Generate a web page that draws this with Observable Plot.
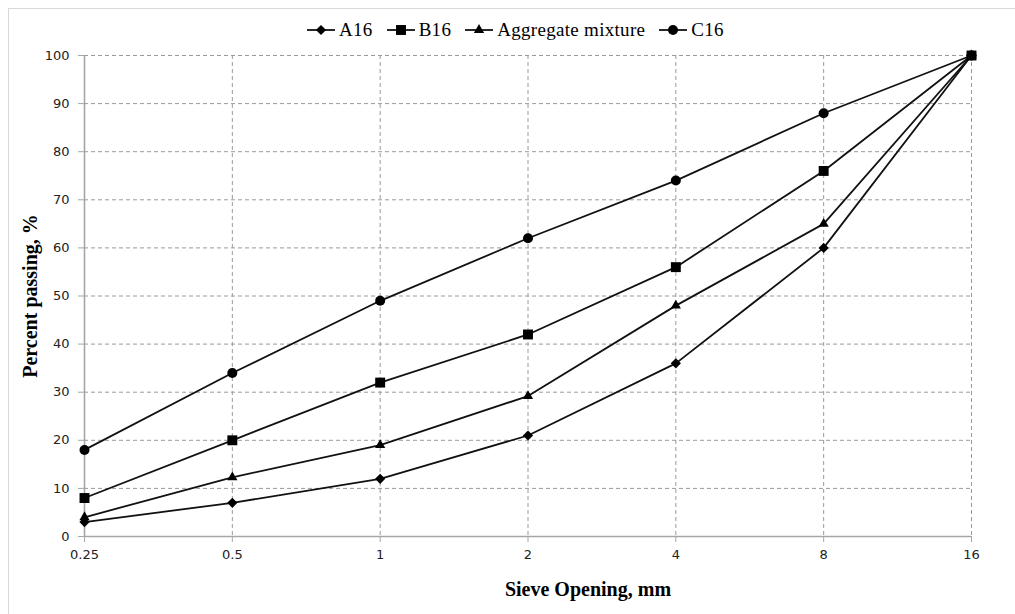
<!DOCTYPE html>
<html>
<head>
<meta charset="utf-8">
<script src="https://cdn.jsdelivr.net/npm/d3@7"></script>
<script src="https://cdn.jsdelivr.net/npm/@observablehq/plot@0.6"></script>
<style>
  body { margin: 0; background: #fff; width: 1015px; height: 614px; overflow: hidden; position: relative; }
  #frame { position: absolute; left: 8px; top: 8px; width: 1100px; height: 700px;
           border-left: 1px solid #d9d9d9; border-top: 1px solid #d9d9d9; pointer-events: none; }
  #legend { height: 42px; display: flex; align-items: center; padding-left: 307px; padding-top: 18px;
            box-sizing: border-box; font-family: "Liberation Serif", "Times New Roman", serif;
            font-size: 19px; letter-spacing: 0.3px; color: #000; }
  .item { display: flex; align-items: center; margin-right: 14px; }
  .item svg { margin-right: 4px; }
  #chart svg { display: block; }
</style>
</head>
<body>
<div id="frame"></div>
<div id="legend"></div>
<div id="chart"></div>
<script>
// Sieve sizes (mm) and percent passing for each gradation curve
const sieve = [0.25, 0.5, 1, 2, 4, 8, 16];
const seriesNames = ["A16", "B16", "Aggregate mixture", "C16"];
const a16 = [3, 7, 12, 21, 36, 60, 100];
const b16 = [8, 20, 32, 42, 56, 76, 100];
const mixture = [4, 12.3, 19, 29.2, 48, 65, 100];
const c16 = [18, 34, 49, 62, 74, 88, 100];
const yTicks = d3.range(0, 101, 10);
const xLabel = "Sieve Opening, mm";
const yLabel = "Percent passing, %";

const seriesValues = [a16, b16, mixture, c16];
const symbolNames = ["diamond2", "square", "triangle", "circle"];
const symbolRadius = [4.6, 5.6, 3.8, 5];
const d3Symbols = [d3.symbolDiamond2, d3.symbolSquare, d3.symbolTriangle, d3.symbolCircle];

const rows = seriesNames.flatMap((name, i) =>
  sieve.map((s, j) => ({series: name, sieve: s, passing: seriesValues[i][j]})));

const ink = "#111";
const gridColor = "#9a9a9a";
const serif = "'Liberation Serif', 'Times New Roman', serif";
const sans = "'DejaVu Sans', Tahoma, sans-serif";

// Legend: line segment with the series marker, followed by its name
const legend = d3.select("#legend");
seriesNames.forEach((name, i) => {
  const item = legend.append("div").attr("class", "item");
  const svg = item.append("svg").attr("width", 28).attr("height", 14);
  svg.append("line").attr("x1", 0).attr("x2", 28).attr("y1", 7).attr("y2", 7)
    .attr("stroke", ink).attr("stroke-width", 1.8);
  svg.append("path")
    .attr("transform", "translate(14,7)")
    .attr("d", d3.symbol(d3Symbols[i], Math.PI * symbolRadius[i] ** 2)())
    .attr("fill", "#000");
  item.append("span").text(name);
});

const marks = [
  Plot.gridY(yTicks, {stroke: gridColor, strokeOpacity: 1, strokeDasharray: "4,3"}),
  Plot.gridX(sieve, {stroke: gridColor, strokeOpacity: 1, strokeDasharray: "4,3"}),
  Plot.ruleX([0.25], {stroke: "#a6a6a6", strokeWidth: 1.6}),
  Plot.ruleY([0], {stroke: "#a6a6a6", strokeWidth: 1.6}),
  Plot.axisY(yTicks, {tickSize: 6, tickPadding: 9, stroke: "#a6a6a6", fill: "#222",
    fontSize: 13, fontFamily: sans, label: null}),
  Plot.axisX(sieve, {tickSize: 6, tickPadding: 7, stroke: "#a6a6a6", fill: "#222",
    fontSize: 13, fontFamily: sans, label: null, tickFormat: d => String(d)}),
  Plot.text([yLabel], {frameAnchor: "left", dx: -54, rotate: -90, textAnchor: "middle",
    lineAnchor: "middle", fontSize: 20, fontWeight: "bold", fontFamily: serif, fill: "#000"}),
  Plot.text([xLabel], {frameAnchor: "bottom", dx: 60, dy: 53, textAnchor: "middle",
    lineAnchor: "middle", fontSize: 20, fontWeight: "bold", fontFamily: serif, fill: "#000"})
];

seriesNames.forEach((name, i) => {
  const data = rows.filter(d => d.series === name);
  marks.push(Plot.line(data, {x: "sieve", y: "passing", stroke: ink, strokeWidth: 1.8}));
});
seriesNames.forEach((name, i) => {
  const data = rows.filter(d => d.series === name);
  marks.push(Plot.dot(data, {x: "sieve", y: "passing", symbol: () => symbolNames[i],
    r: symbolRadius[i], fill: "#000", stroke: "none"}));
});

const chart = Plot.plot({
  width: 1015,
  height: 572,
  marginTop: 13,
  marginBottom: 78,
  marginLeft: 84,
  marginRight: 44,
  style: {background: "transparent", fontFamily: sans},
  x: {type: "log", base: 2, domain: [0.25, 16]},
  y: {domain: [0, 100]},
  symbol: {type: "identity"},
  marks
});
document.getElementById("chart").append(chart);
</script>
</body>
</html>
